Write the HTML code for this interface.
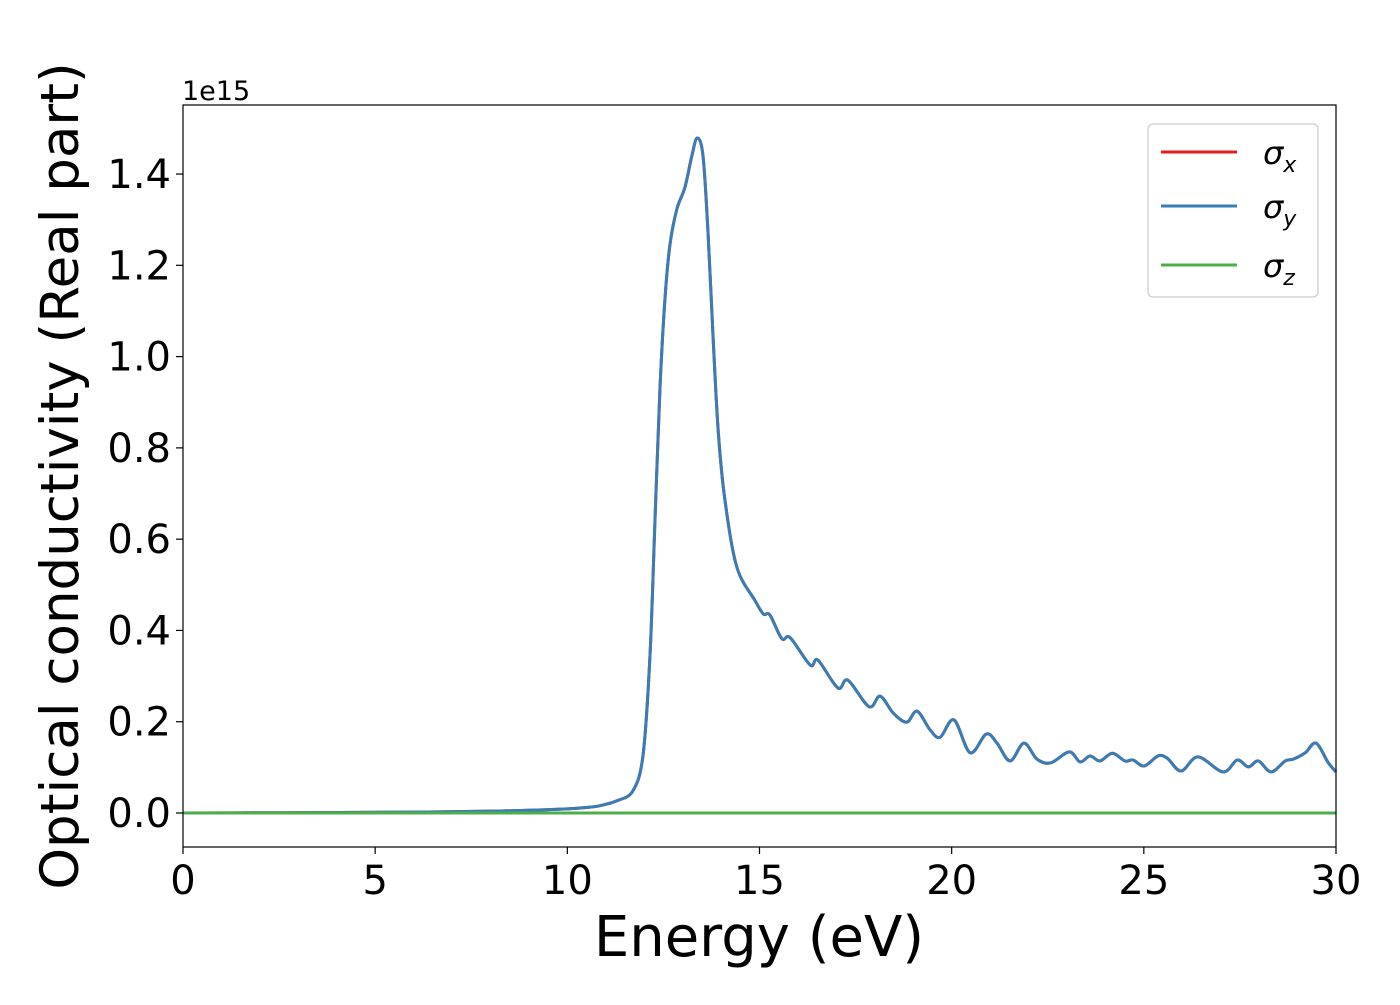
<!DOCTYPE html>
<html><head><meta charset="utf-8"><style>
body{margin:0;background:#fff}
svg text{font-family:"DejaVu Sans","Liberation Sans",sans-serif;fill:#000}
</style></head><body>
<svg id="chart" width="1400" height="1000" xmlns="http://www.w3.org/2000/svg">
<rect width="1400" height="1000" fill="#fff"/>
<g id="ticks"></g>
<g id="lines"></g>
<rect x="183" y="105" width="1153" height="742" fill="none" stroke="#000" stroke-width="1.2"/>
<text x="182" y="100" font-size="27">1e15</text>
<text x="759" y="956" font-size="56" text-anchor="middle">Energy (eV)</text>
<text transform="translate(78,476) rotate(-90)" font-size="53" text-anchor="middle">Optical conductivity (Real part)</text>
<g>
<rect x="1148" y="124" width="170" height="173" rx="5" fill="#fff" stroke="#ccc" stroke-width="1.2"/>
<line x1="1161" y1="152" x2="1237" y2="152" stroke="#e41a1c" stroke-width="3"/>
<text x="1263" y="164" font-size="32" font-style="italic">σ<tspan font-size="22" dy="8">x</tspan></text>
<line x1="1161" y1="206" x2="1237" y2="206" stroke="#377eb8" stroke-width="3"/>
<text x="1263" y="218" font-size="32" font-style="italic">σ<tspan font-size="22" dy="8">y</tspan></text>
<line x1="1161" y1="265" x2="1237" y2="265" stroke="#4daf4a" stroke-width="3"/>
<text x="1263" y="277" font-size="32" font-style="italic">σ<tspan font-size="22" dy="8">z</tspan></text>
</g>
</svg>
<script>
const energy=[0,2,4,6,8,9,10,10.5,10.85,11.3,11.71,11.97,12.15,12.28,12.41,12.54,12.67,12.85,13.06,13.24,13.38,13.53,13.66,13.80,13.93,14.10,14.41,14.88,15.10,15.27,15.58,15.80,16.32,16.52,17.04,17.30,17.85,18.14,18.48,18.83,19.10,19.44,19.70,20.06,20.48,20.90,21.18,21.52,21.88,22.22,22.58,23.06,23.34,23.60,23.86,24.18,24.51,24.72,25.01,25.37,25.61,25.97,26.41,27.06,27.43,27.72,27.98,28.31,28.68,28.89,29.20,29.48,29.80,30.0];
const sigmaXY=[0,0.0005,0.001,0.002,0.004,0.006,0.009,0.012,0.016,0.027,0.049,0.127,0.344,0.64,0.93,1.126,1.245,1.323,1.371,1.44,1.479,1.44,1.273,1.029,0.832,0.686,0.539,0.466,0.436,0.434,0.382,0.384,0.324,0.335,0.274,0.291,0.233,0.256,0.219,0.199,0.223,0.182,0.166,0.204,0.132,0.173,0.153,0.114,0.153,0.118,0.110,0.134,0.112,0.125,0.114,0.131,0.114,0.116,0.103,0.125,0.120,0.092,0.123,0.090,0.116,0.101,0.114,0.090,0.114,0.118,0.132,0.153,0.110,0.090];
const sigmaZ=[0,0];
const sigmaZE=[0,30];
const xTicks=[0,5,10,15,20,25,30];
const yTicks=[0,0.2,0.4,0.6,0.8,1.0,1.2,1.4];
const yTickLabels=["0.0","0.2","0.4","0.6","0.8","1.0","1.2","1.4"];
const X=e=>183+e*(1153/30);
const Y=v=>813-v*456.4;
const NS="http://www.w3.org/2000/svg";
const tk=document.getElementById('ticks');
function mk(t,a,p){const el=document.createElementNS(NS,t);for(const k in a)el.setAttribute(k,a[k]);p.appendChild(el);return el;}
xTicks.forEach(t=>{
 const l=mk('line',{x1:X(t),x2:X(t),y1:847,y2:854,stroke:'#000','stroke-width':1.2},tk);
 
 
 const s=mk('text',{x:X(t),y:894,'font-size':40,'text-anchor':'middle'},tk);s.textContent=t;
 
 
});
yTicks.forEach((t,i)=>{
 const l=mk('line',{x1:176,x2:183,y1:Y(t),y2:Y(t),stroke:'#000','stroke-width':1.2},tk);
 
 
 const s=mk('text',{x:171,y:Y(t)+14,'font-size':40,'text-anchor':'end'},tk);s.textContent=yTickLabels[i];
 
 
});
function smooth(xs,ys){
 const p=xs.map((e,i)=>[X(e),Y(ys[i])]);
 let d=`M${p[0][0]},${p[0][1]}`;
 for(let i=0;i<p.length-1;i++){
  const p0=p[Math.max(0,i-1)],p1=p[i],p2=p[i+1],p3=p[Math.min(p.length-1,i+2)];
  const c1=[p1[0]+(p2[0]-p0[0])/6,p1[1]+(p2[1]-p0[1])/6];
  const c2=[p2[0]-(p3[0]-p1[0])/6,p2[1]-(p3[1]-p1[1])/6];
  d+=`C${c1[0]},${c1[1]} ${c2[0]},${c2[1]} ${p2[0]},${p2[1]}`;
 }
 return d;
}
const lg=document.getElementById('lines');
const lx=mk('path',{d:smooth(energy,sigmaXY),fill:'none',stroke:'#e41a1c','stroke-width':3},lg);


const ly=mk('path',{d:smooth(energy,sigmaXY),fill:'none',stroke:'#377eb8','stroke-width':3},lg);


const lz=mk('path',{d:smooth(sigmaZE,sigmaZ),fill:'none',stroke:'#4daf4a','stroke-width':3},lg);


</script>
</body></html>
